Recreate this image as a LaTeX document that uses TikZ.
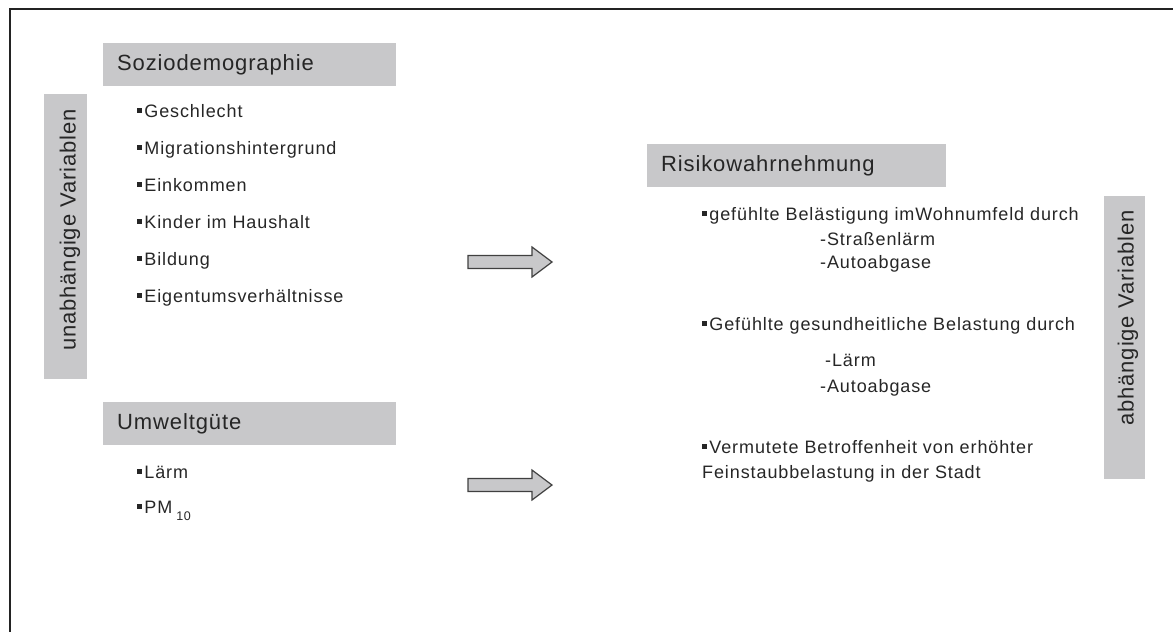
\documentclass[tikz,border=0pt]{standalone}
\usepackage{fontspec}
\setmainfont{Liberation Sans}
\newfontfamily\headfont[LetterSpace=4]{Liberation Sans}
\newfontfamily\itemfont[LetterSpace=5]{Liberation Sans}
\usetikzlibrary{positioning}
\definecolor{boxgray}{RGB}{200,200,202}
\definecolor{textgray}{RGB}{38,38,38}
\definecolor{framegray}{RGB}{35,35,35}
\newcommand{\sq}{\rule[0.22em]{0.28em}{0.28em}\kern0.12em}
\tikzstyle{header} = [rectangle, fill=boxgray, anchor=north west, minimum width=293pt,
    minimum height=43pt, inner xsep=14pt, text width=265pt, align=left,
    font=\headfont\fontsize{22}{26}\selectfont, text=textgray]
\tikzstyle{sidebar} = [rectangle, fill=boxgray, anchor=north west, inner sep=0pt]
\tikzstyle{sidelabel} = [rotate=90, inner sep=0pt, font=\headfont\fontsize{22}{26}\selectfont, text=textgray]
\tikzstyle{item} = [anchor=base west, inner sep=0pt, font=\itemfont\fontsize{18}{21}\selectfont, text=textgray]
\tikzstyle{bigarrow} = [fill=boxgray, draw=black!75, line width=1.2pt, line join=miter]

\begin{document}
\begin{tikzpicture}[x=1pt, y=-1pt]
\useasboundingbox (0,0) rectangle (1173,632);
% Frame
\coordinate (fbl) at (10,632);
\coordinate (ftl) at (10,8.5);
\coordinate (ftr) at (1173,8.5);
\draw[framegray, line width=2pt] (fbl) -- (ftl) -- (ftr);
% Independent side
\node[sidebar, minimum width=43pt, minimum height=285pt] (indep) at (44,94) {};
\node[sidelabel] (indeplabel) at (70,230) {unabhängige Variablen};
\node[header] (socio) at (103,43) {Soziodemographie};
\foreach \txt [count=\i from 0] in {Geschlecht, Migrationshintergrund, Einkommen,
    Kinder im Haushalt, Bildung, Eigentumsverhältnisse}
  \node[item] (s\i) at (137,{117+37*\i}) {\sq\txt};
\node[header] (env) at (103,402) {Umweltgüte};
\node[item] (e0) at (137,478) {\sq Lärm};
\node[item] (e1) at (137,513) {\sq PM\kern4pt\raisebox{-7pt}{\fontsize{12.5}{12}\selectfont 10}};
% Arrows
\foreach \y in {262,485}
  \draw[bigarrow] (468,\y-6.5) -- (532,\y-6.5) -- (532,\y-15) -- (552,\y)
    -- (532,\y+15) -- (532,\y+6.5) -- (468,\y+6.5) -- cycle;
% Dependent side
\node[header, minimum width=299pt, text width=271pt] (risk) at (647,144) {Risikowahrnehmung};
\node[item] (r1) at (702,220) {\sq gefühlte Belästigung imWohnumfeld durch};
\node[item] (r1a) at (820,245) {-Straßenlärm};
\node[item] (r1b) at (820,268) {-Autoabgase};
\node[item] (r2) at (702,330) {\sq Gefühlte gesundheitliche Belastung durch};
\node[item] (r2a) at (825,366) {-Lärm};
\node[item] (r2b) at (820,392) {-Autoabgase};
\node[item] (r3) at (702,453) {\sq Vermutete Betroffenheit von erhöhter};
\node[item] (r3b) at (702,478) {Feinstaubbelastung in der Stadt};
\node[sidebar, minimum width=41pt, minimum height=283pt] (dep) at (1104,196) {};
\node[sidelabel] (deplabel) at (1128,318) {abhängige Variablen};
\end{tikzpicture}
\end{document}
